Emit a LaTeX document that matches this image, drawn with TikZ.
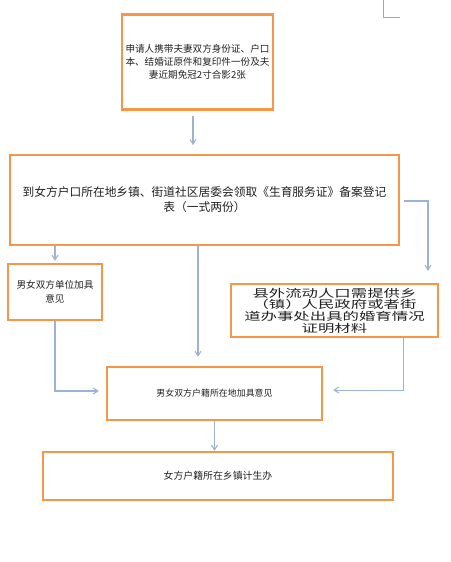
\documentclass[tikz,border=0pt]{standalone}
\usepackage{fontspec}
\setmainfont{Noto Sans CJK SC}
\newfontfamily\widefont[FakeStretch=1.5]{Noto Sans CJK SC}
\usetikzlibrary{arrows.meta,calc}
\definecolor{boxorange}{HTML}{F79646}
\definecolor{connblue}{HTML}{9DB3D3}
\definecolor{txt}{HTML}{222222}
\tikzset{
  box/.style={draw=boxorange, line width=1.8pt, fill=white, inner sep=2pt,
    align=center, text=txt},
  conn/.style={draw=connblue, line width=0.8pt,
    -{Straight Barb[length=3.5pt,width=4.5pt]}},
}
\begin{document}
\begin{tikzpicture}[x=0.75pt,y=-0.75pt]
\fill[white] (0,0) rectangle (451,562);
\useasboundingbox (0,0) rectangle (451,562);
% corner mark
\coordinate (m1) at (383,0);
\coordinate (m2) at (383,17);
\coordinate (m3) at (400,17);
\draw[gray!70, line width=0.6pt] (m1) -- (m2) -- (m3);

\node[box, minimum width=113.25pt, minimum height=71.25pt,
  font=\fontsize{7.2pt}{9.75pt}\selectfont] (b1) at (197.5,62)
  {申请人携带夫妻双方身份证、户口\\本、结婚证原件和复印件一份及夫\\妻近期免冠2寸合影2张};

\node[box, minimum width=291.75pt, minimum height=67.5pt,
  font=\fontsize{8.8pt}{11.25pt}\selectfont] (b2) at (204.5,200)
  {到女方户口所在地乡镇、街道社区居委会领取《生育服务证》备案登记\\表（一式两份）};

\node[box, minimum width=70.5pt, minimum height=42pt,
  font=\fontsize{7.2pt}{10.5pt}\selectfont] (b3) at (55,292)
  {男女双方单位加具\\意见};

\node[box, minimum width=155.25pt, minimum height=39.75pt,
  font=\widefont\fontsize{8.2pt}{8.8pt}\selectfont] (b4) at (334.5,310.5)
  {县外流动人口需提供乡\\（镇）人民政府或者街\\道办事处出具的婚育情况\\证明材料};

\node[box, minimum width=161.25pt, minimum height=39.75pt,
  font=\fontsize{6.7pt}{9pt}\selectfont] (b5) at (214.5,393.5)
  {男女双方户籍所在地加具意见};

\node[box, minimum width=262.5pt, minimum height=36pt,
  font=\fontsize{7.4pt}{9pt}\selectfont] (b6) at (218,476)
  {女方户籍所在乡镇计生办};

% connectors
\draw[conn, shorten <=3.75pt, shorten >=6.5pt]
  ([xshift=-3.4pt]b1.south) -- ([xshift=-3.4pt]b1.south |- b2.north);
\draw[conn, shorten >=1.5pt]
  (b3.north |- b2.south) -- (b3.north);
\draw[conn, shorten >=6.75pt]
  ([xshift=-4.9pt]b2.south) -- ([xshift=-4.9pt]b2.south |- b5.north);
\draw[conn, shorten >=9pt]
  ([shift={(3pt,-0.75pt)}]b2.east) -| ([xshift=70.1pt]b4.north);
\draw[conn, shorten >=5.25pt]
  (b3.south) |- ([yshift=1.9pt]b5.west);
\draw[conn, shorten >=7.5pt]
  ([xshift=51.4pt]b4.south) |- ([yshift=2.6pt]b5.east);
\draw[conn]
  (b5.south) -- (b5.south |- b6.north);
\end{tikzpicture}
\end{document}
